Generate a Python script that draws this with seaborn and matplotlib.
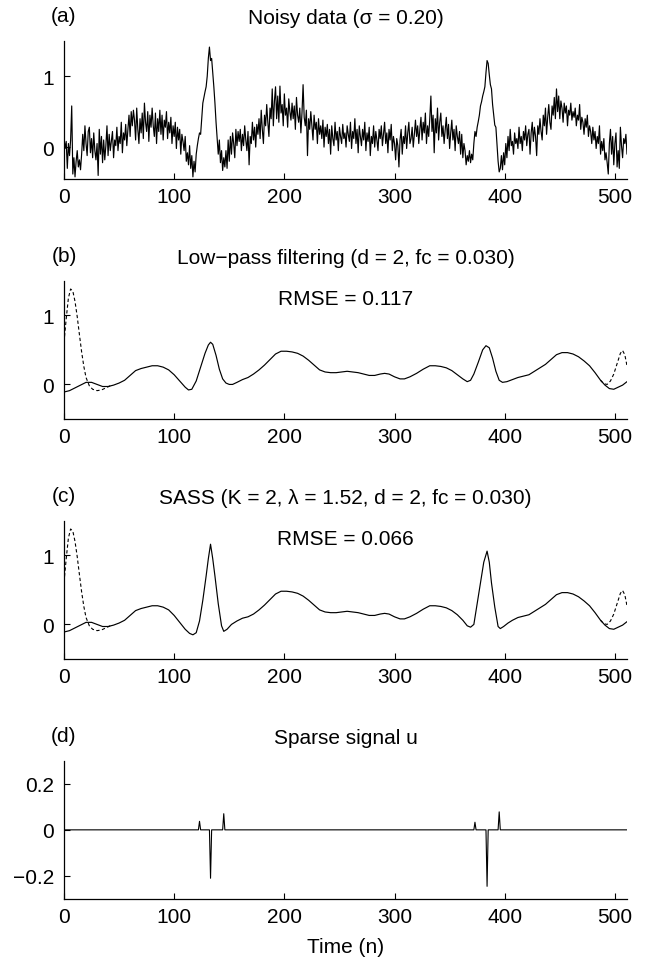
import numpy as np
import matplotlib
matplotlib.use("Agg")
import matplotlib.pyplot as plt
import seaborn as sns

# ---------------- data ----------------
noisy = [
    0.12, -0.02, 0.08, -0.30, 0.05, -0.12, 0.10, 0.58, -0.38, -0.15, -0.42, -0.20, -0.05, -0.28, -0.18, -0.32,
    -0.10, 0.18, -0.05, 0.30, 0.05, -0.12, 0.22, 0.28, -0.08, 0.12, -0.15, 0.20, -0.05, -0.18, 0.05, -0.40,
    0.25, -0.10, 0.15, -0.22, 0.10, -0.18, 0.02, 0.30, -0.12, 0.18, -0.05, 0.08, 0.22, -0.15, 0.10, 0.02,
    0.28, -0.05, 0.15, 0.05, 0.35, -0.08, 0.20, 0.10, 0.32, 0.02, 0.25, 0.45, 0.15, 0.50, 0.30, 0.52,
    0.38, 0.10, 0.55, 0.25, 0.05, 0.40, 0.20, 0.48, 0.12, 0.62, 0.35, 0.22, 0.50, 0.08, 0.45, 0.28,
    0.55, 0.30, 0.15, 0.48, 0.05, 0.40, 0.22, 0.52, 0.18, 0.45, 0.10, 0.38, 0.28, 0.50, 0.12, 0.35,
    0.20, 0.42, 0.05, 0.30, 0.15, 0.35, -0.02, 0.28, 0.10, 0.25, -0.10, 0.18, 0.08, -0.05, 0.15, -0.20,
    -0.08, -0.25, 0.02, -0.30, -0.12, -0.42, -0.20, -0.35, -0.10, 0.02, 0.12, 0.20, 0.18, 0.40, 0.62, 0.70,
    0.78, 0.85, 1.00, 1.25, 1.41, 1.22, 1.25, 1.05, 0.85, 0.62, 0.35, 0.12, -0.10, 0.10, -0.22, -0.05,
    -0.33, -0.15, -0.28, -0.05, -0.30, 0.10, -0.20, 0.15, -0.10, 0.20, 0.05, -0.15, 0.25, 0.02, 0.22, 0.08,
    0.25, -0.05, 0.18, 0.02, 0.30, 0.10, -0.05, 0.22, -0.25, 0.15, 0.05, 0.35, 0.10, 0.28, 0.00, 0.32,
    0.18, 0.40, 0.12, 0.52, 0.25, 0.05, 0.45, 0.30, 0.60, 0.35, 0.15, 0.55, 0.40, 0.82, 0.30, 0.65,
    0.85, 0.40, 0.72, 0.35, 0.86, 0.48, 0.60, 0.30, 0.75, 0.45, 0.55, 0.28, 0.68, 0.50, 0.38, 0.62,
    0.40, 0.58, 0.25, 0.70, 0.45, 0.35, 0.55, 0.20, 0.48, 0.88, 0.42, 0.30, 0.52, -0.12, 0.40, 0.25,
    0.50, 0.30, 0.10, 0.45, 0.25, 0.35, 0.05, 0.40, 0.18, 0.30, 0.12, 0.38, 0.00, 0.28, 0.15, 0.32,
    0.05, 0.25, -0.10, 0.30, 0.12, 0.02, 0.35, 0.10, 0.22, -0.05, 0.28, 0.15, 0.05, 0.32, 0.12, 0.20,
    0.00, 0.30, 0.18, 0.08, 0.35, -0.02, 0.22, 0.12, 0.40, 0.05, 0.25, -0.08, 0.30, 0.15, 0.02, 0.25,
    0.10, 0.35, -0.05, 0.20, 0.08, 0.28, -0.12, 0.15, 0.05, 0.30, 0.00, 0.22, 0.10, -0.05, 0.25, 0.12,
    0.30, 0.02, 0.18, 0.35, 0.05, 0.20, -0.08, 0.25, 0.10, 0.32, -0.05, 0.15, 0.05, -0.18, 0.12, 0.02,
    -0.28, 0.10, 0.25, -0.10, 0.15, 0.05, 0.30, -0.02, 0.20, 0.35, 0.05, 0.12, 0.28, 0.00, 0.18, 0.38,
    0.15, 0.30, 0.05, 0.25, 0.42, 0.10, 0.35, 0.20, 0.48, 0.05, 0.30, 0.15, 0.40, 0.72, 0.22, 0.45,
    -0.08, 0.40, 0.20, 0.55, 0.10, 0.35, 0.48, 0.15, 0.30, 0.05, 0.25, 0.42, 0.12, 0.32, -0.02, 0.20,
    0.38, 0.10, 0.25, -0.05, 0.30, 0.15, 0.05, 0.22, -0.10, 0.18, -0.15, 0.05, -0.05, -0.25, -0.12, -0.20,
    -0.05, -0.22, -0.10, -0.18, 0.05, 0.22, 0.15, 0.28, 0.36, 0.45, 0.58, 0.64, 0.72, 0.78, 0.85, 1.05,
    1.22, 1.18, 1.02, 0.88, 0.82, 0.60, 0.45, 0.31, 0.28, 0.05, -0.20, -0.35, -0.30, -0.12, -0.32, -0.08,
    -0.25, 0.05, -0.15, 0.15, -0.05, 0.25, 0.02, 0.08, -0.10, 0.20, 0.05, 0.12, -0.02, 0.28, 0.05, 0.15,
    -0.05, 0.22, 0.10, 0.30, 0.02, 0.18, 0.25, -0.10, 0.20, 0.35, 0.08, 0.28, 0.15, -0.12, 0.30, 0.18,
    0.40, 0.22, 0.10, 0.45, 0.30, 0.55, 0.18, 0.42, 0.60, 0.35, 0.25, 0.58, 0.45, 0.70, 0.40, 0.82,
    0.50, 0.72, 0.40, 0.65, 0.55, 0.35, 0.62, 0.48, 0.58, 0.30, 0.52, 0.45, 0.62, 0.38, 0.50, 0.42,
    0.55, 0.30, 0.45, 0.38, 0.60, 0.25, 0.42, 0.35, 0.18, 0.40, 0.28, 0.45, 0.15, 0.30, 0.22, 0.05,
    0.28, 0.10, 0.22, -0.02, 0.15, 0.05, 0.30, -0.10, 0.08, -0.05, 0.12, -0.18, -0.08, -0.22, -0.38, 0.05,
    0.25, -0.10, 0.15, -0.25, 0.05, 0.20, -0.28, -0.05, -0.30, 0.28, 0.02, -0.15, 0.12, 0.05, 0.18, -0.10,
]

lowpass_n = [0, 5, 10, 15, 20, 25, 30, 35, 40, 45, 50, 55, 60, 65, 70, 75, 80, 85, 90, 95,
             100, 105, 110, 113, 116, 120, 124, 128, 131, 133, 135, 138, 141, 144, 147, 150,
             153, 157, 162, 167, 172, 177, 182, 187, 192, 197, 202, 207, 212, 217, 222, 227,
             232, 237, 242, 247, 252, 257, 262, 267, 272, 277, 282, 287, 291, 295, 300, 305,
             309, 314, 320, 326, 332, 337, 342, 347, 352, 357, 362, 366, 369, 372, 376, 380,
             383, 386, 389, 392, 395, 398, 402, 407, 412, 417, 422, 427, 432, 437, 442, 447,
             452, 457, 462, 467, 472, 477, 482, 487, 491, 495, 499, 503, 507, 511]
lowpass_y = [-0.11, -0.09, -0.05, -0.01, 0.03, 0.03, 0.00, -0.03, -0.03, -0.01, 0.02, 0.06,
             0.13, 0.20, 0.23, 0.25, 0.27, 0.27, 0.25, 0.21, 0.14, 0.05, -0.04, -0.08, -0.07,
             0.05, 0.25, 0.45, 0.57, 0.61, 0.58, 0.42, 0.22, 0.08, 0.02, 0.00, 0.00, 0.03, 0.07,
             0.10, 0.15, 0.21, 0.28, 0.36, 0.44, 0.48, 0.48, 0.47, 0.45, 0.41, 0.35, 0.28, 0.21,
             0.18, 0.17, 0.17, 0.18, 0.19, 0.18, 0.17, 0.15, 0.13, 0.13, 0.15, 0.16, 0.15, 0.11,
             0.08, 0.08, 0.11, 0.16, 0.22, 0.27, 0.27, 0.26, 0.24, 0.20, 0.14, 0.08, 0.04, 0.06,
             0.15, 0.32, 0.50, 0.56, 0.53, 0.38, 0.19, 0.06, 0.03, 0.04, 0.07, 0.10, 0.12, 0.14,
             0.19, 0.24, 0.29, 0.36, 0.43, 0.46, 0.46, 0.44, 0.40, 0.34, 0.27, 0.17, 0.06, -0.01,
             -0.06, -0.07, -0.04, -0.01, 0.04]

sass_n = [0, 5, 10, 15, 20, 25, 30, 35, 40, 45, 50, 55, 60, 65, 70, 75, 80, 85, 90, 95,
          100, 105, 110, 114, 117, 120, 123, 126, 129, 131, 133, 135, 137, 140, 143, 145,
          148, 152, 157, 162, 167, 172, 177, 182, 187, 192, 197, 202, 207, 212, 217, 222,
          227, 232, 237, 242, 247, 252, 257, 262, 267, 272, 277, 282, 287, 291, 295, 300,
          305, 309, 314, 320, 326, 332, 337, 342, 347, 352, 357, 362, 366, 369, 372, 375,
          378, 381, 384, 386, 388, 391, 394, 396, 399, 403, 407, 412, 417, 422, 427, 432,
          437, 442, 447, 452, 457, 462, 467, 472, 477, 482, 487, 491, 495, 499, 503, 507, 511]
sass_y = [-0.11, -0.09, -0.05, -0.01, 0.03, 0.03, 0.00, -0.03, -0.03, -0.01, 0.02, 0.06,
          0.13, 0.20, 0.23, 0.25, 0.27, 0.27, 0.25, 0.21, 0.13, 0.03, -0.07, -0.13, -0.15,
          -0.12, 0.05, 0.35, 0.70, 0.95, 1.16, 0.95, 0.70, 0.30, -0.02, -0.10, -0.07, 0.00,
          0.05, 0.09, 0.11, 0.15, 0.21, 0.28, 0.36, 0.44, 0.48, 0.48, 0.47, 0.45, 0.41, 0.35,
          0.28, 0.21, 0.18, 0.17, 0.17, 0.18, 0.19, 0.18, 0.17, 0.15, 0.13, 0.13, 0.15, 0.16,
          0.15, 0.11, 0.08, 0.08, 0.11, 0.16, 0.22, 0.27, 0.27, 0.26, 0.24, 0.20, 0.14, 0.06,
          -0.02, -0.04, 0.00, 0.30, 0.60, 0.90, 1.06, 0.90, 0.60, 0.25, -0.03, -0.06, -0.03,
          0.02, 0.06, 0.10, 0.12, 0.14, 0.19, 0.24, 0.29, 0.36, 0.43, 0.46, 0.46, 0.44, 0.40,
          0.34, 0.27, 0.17, 0.06, -0.01, -0.06, -0.07, -0.04, -0.01, 0.04]

dashed_start_n = [0, 2, 4, 6, 8, 10, 12, 14, 16, 18, 20, 23, 26, 30, 34, 38, 42]
dashed_start_y = [0.61, 0.95, 1.25, 1.38, 1.35, 1.20, 0.98, 0.72, 0.47, 0.26, 0.10, -0.02,
                  -0.07, -0.09, -0.08, -0.05, -0.02]
dashed_end_n = [487, 490, 493, 496, 499, 502, 505, 507, 509, 511]
dashed_end_y = [0.06, 0.01, 0.00, 0.05, 0.15, 0.30, 0.45, 0.49, 0.43, 0.27]

spike_n = [123, 133, 145, 373, 384, 395]
spike_u = [0.037, -0.21, 0.07, 0.033, -0.245, 0.078]
n_total = 512

titles = ["Noisy data (\u03c3 = 0.20)",
          "Low\u2212pass filtering (d = 2, fc = 0.030)",
          "SASS (K = 2, \u03bb = 1.52, d = 2, fc = 0.030)",
          "Sparse signal u"]
panel_labels = ["(a)", "(b)", "(c)", "(d)"]
rmse_text = [None, "RMSE = 0.117", "RMSE = 0.066", None]

# ---------------- style ----------------
sns.set_style("ticks")
plt.rcParams["font.family"] = ["Liberation Sans", "DejaVu Sans"]
plt.rcParams.update({
    "font.size": 15,
    "text.color": "black",
    "axes.labelcolor": "black",
    "axes.titlecolor": "black",
    "xtick.direction": "in",
    "ytick.direction": "in",
    "xtick.major.size": 4.3,
    "ytick.major.size": 4.3,
    "xtick.major.width": 0.8,
    "ytick.major.width": 0.8,
    "axes.linewidth": 0.9,
    "xtick.major.pad": 6,
    "ytick.major.pad": 7,
    "xtick.labelsize": 15,
    "ytick.labelsize": 15,
    "axes.edgecolor": "black",
    "xtick.color": "black",
    "ytick.color": "black",
    "xtick.labelcolor": "black",
    "ytick.labelcolor": "black",
})

W, H = 649, 962
fig = plt.figure(figsize=(W / 100, H / 100), dpi=100)
left = 64 / W
width = 563 / W
height = 138.3 / H
tops = [41.7, 281.7, 521.7, 761.7]
axes = [fig.add_axes([left, 1 - (t + 138.3) / H, width, height]) for t in tops]

lw = 0.85
# (a)
sns.lineplot(x=np.arange(len(noisy)), y=noisy, ax=axes[0], color="black", linewidth=lw)
# (b), (c)
for ax, (xs, ys) in zip(axes[1:3], [(lowpass_n, lowpass_y), (sass_n, sass_y)]):
    sns.lineplot(x=dashed_start_n, y=dashed_start_y, ax=ax, color="black", linewidth=0.8,
                 linestyle=(0, (3, 2.2)))
    sns.lineplot(x=dashed_end_n, y=dashed_end_y, ax=ax, color="black", linewidth=0.8,
                 linestyle=(0, (3, 2.2)))
    sns.lineplot(x=xs, y=ys, ax=ax, color="black", linewidth=lw)
# (d)
u = np.zeros(n_total)
u[spike_n] = spike_u
sns.lineplot(x=np.arange(n_total), y=u, ax=axes[3], color="black", linewidth=0.8)

ylims = [(-0.45, 1.5), (-0.5, 1.5), (-0.5, 1.5), (-0.3, 0.3)]
for i, ax in enumerate(axes):
    ax.set_xlim(0, 511)
    ax.set_ylim(*ylims[i])
    ax.set_xticks([0, 100, 200, 300, 400, 500])
    if i < 3:
        ax.set_yticks([0, 1])
        ax.set_yticklabels(["0", "1"])
    else:
        ax.set_yticks([-0.2, 0, 0.2])
        ax.set_yticklabels(["\u22120.2", "0", "0.2"])
    sns.despine(ax=ax)
    ax.set_title(titles[i], pad=13, fontsize=15, color="black")
    ax.annotate(panel_labels[i], xy=(0, 1), xycoords="axes fraction",
                xytext=(0, 14), textcoords="offset points",
                ha="center", va="baseline", fontsize=15, color="black")
    if rmse_text[i]:
        ax.text(0.5, 0.835, rmse_text[i], transform=ax.transAxes,
                ha="center", va="baseline", fontsize=15, color="black")
    ax.set_xlabel("")
    ax.set_ylabel("")

axes[3].set_xlabel("Time (n)", fontsize=15, labelpad=8, color="black")

fig.savefig("out.png", dpi=100)
